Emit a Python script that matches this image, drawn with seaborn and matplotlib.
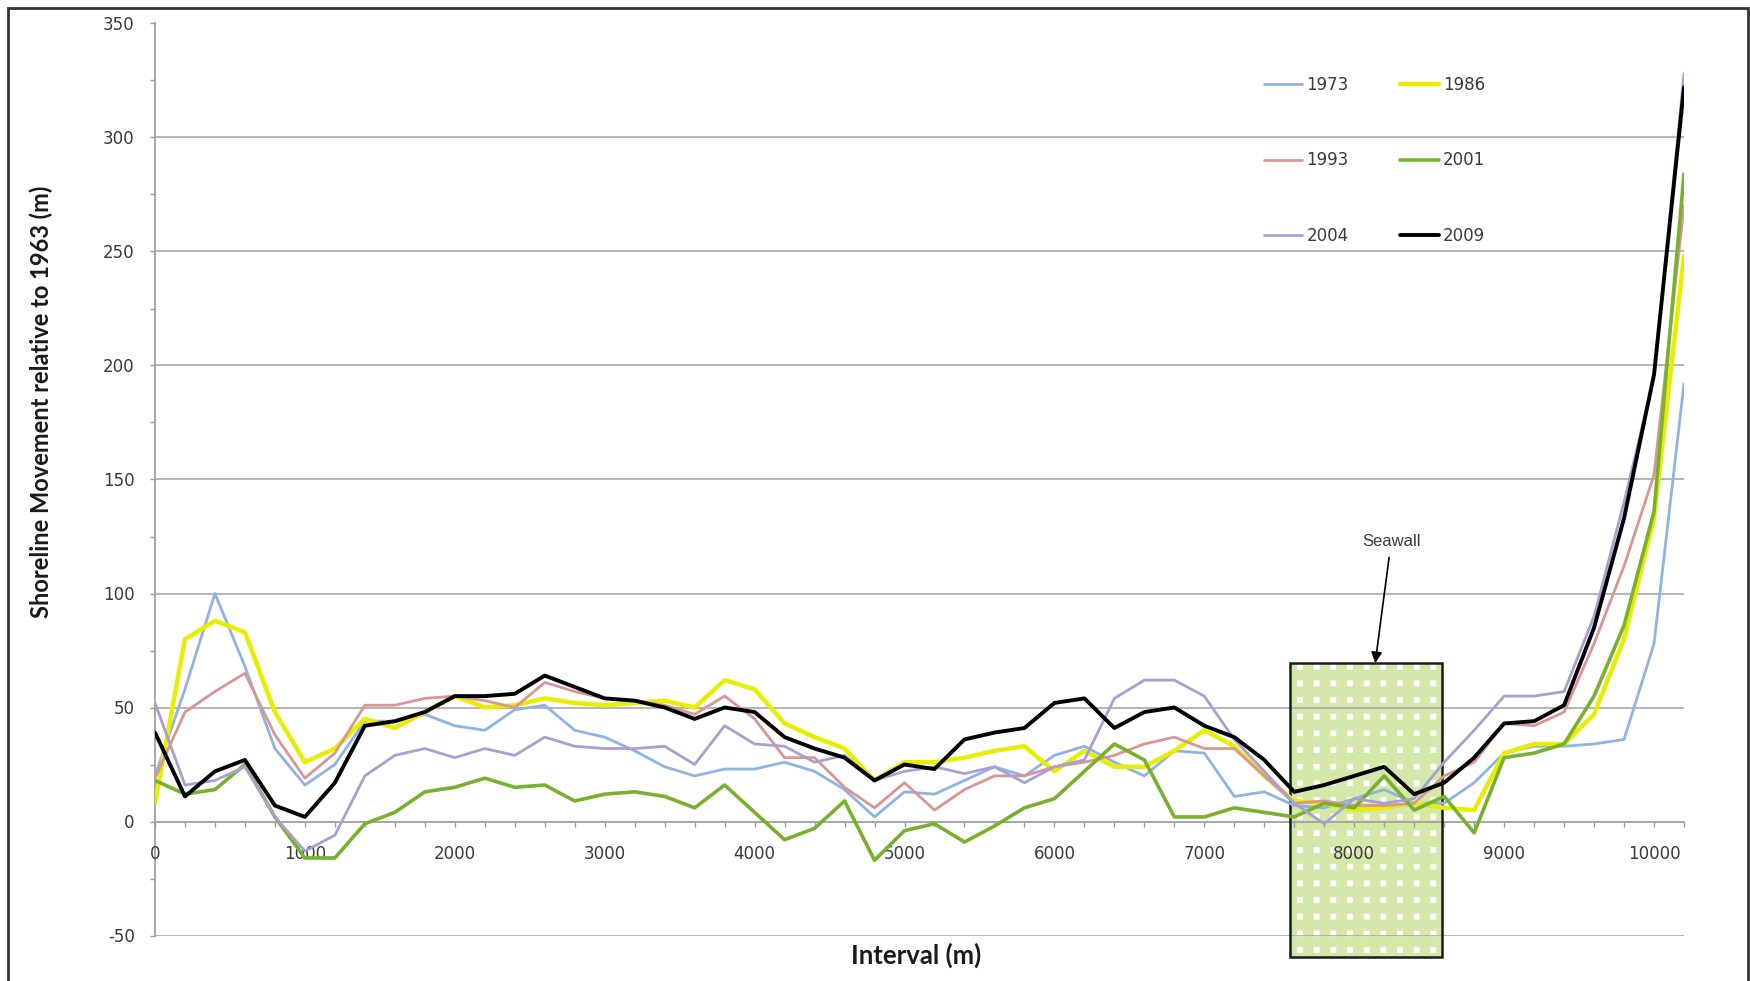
import numpy as np
import pandas as pd
import matplotlib
matplotlib.use("Agg")
import matplotlib.pyplot as plt
import seaborn as sns
from matplotlib.patches import Rectangle
from matplotlib.ticker import MultipleLocator, FixedLocator
from matplotlib.lines import Line2D

# ---------------- data ----------------
interval = list(range(0, 10201, 200))
xtick_values = list(range(0, 10001, 1000))

y1973 = [20, 58, 100, 68, 32, 16, 25, 44, 44, 47, 42, 40, 49, 51, 40,
         37, 31, 24, 20, 23, 23, 26, 22, 14, 2, 13, 12, 18, 24, 20,
         29, 33, 26, 20, 31, 30, 11, 13, 7, 6, 10, 14, 8, 8, 17,
         30, 33, 33, 34, 36, 78, 192]
y1986 = [8, 80, 88, 83, 48, 26, 32, 45, 41, 48, 55, 50, 51, 54, 52,
         51, 52, 53, 50, 62, 58, 43, 37, 32, 18, 26, 26, 28, 31, 33,
         22, 31, 24, 24, 31, 40, 33, 20, 9, 8, 5, 6, 8, 6, 5,
         30, 34, 34, 47, 80, 133, 248]
y1993 = [19, 48, 57, 65, 38, 19, 30, 51, 51, 54, 55, 53, 50, 61, 57,
         54, 53, 51, 47, 55, 45, 28, 28, 15, 6, 17, 5, 14, 20, 20,
         24, 26, 29, 34, 37, 32, 32, 20, 8, 9, 7, 7, 8, 20, 26,
         43, 42, 48, 78, 112, 152, 270]
y2001 = [18, 12, 14, 25, 2, -16, -16, -1, 4, 13, 15, 19, 15, 16, 9,
         12, 13, 11, 6, 16, 4, -8, -3, 9, -17, -4, -1, -9, -2, 6,
         10, 22, 34, 27, 2, 2, 6, 4, 2, 8, 6, 20, 5, 11, -5,
         28, 30, 34, 55, 86, 136, 284]
y2004 = [52, 16, 18, 24, 2, -13, -6, 20, 29, 32, 28, 32, 29, 37, 33,
         32, 32, 33, 25, 42, 34, 33, 26, 29, 18, 22, 24, 21, 24, 17,
         24, 27, 54, 62, 62, 55, 36, 22, 8, -1, 10, 8, 10, 26, 40,
         55, 55, 57, 90, 140, 195, 328]
y2009 = [39, 11, 22, 27, 7, 2, 17, 42, 44, 48, 55, 55, 56, 64, 59,
         54, 53, 50, 45, 50, 48, 37, 32, 28, 18, 25, 23, 36, 39, 41,
         52, 54, 41, 48, 50, 42, 37, 27, 13, 16, 20, 24, 12, 17, 28,
         43, 44, 51, 85, 133, 196, 322]

years = ["1973", "1986", "1993", "2001", "2004", "2009"]
series = [y1973, y1986, y1993, y2001, y2004, y2009]

colors = {"1973": "#8fb4e3", "1986": "#e8ee00", "1993": "#d99694",
          "2001": "#79b12f", "2004": "#a89fd2", "2009": "#000000"}
widths = {"1973": 2.0, "1986": 3.2, "1993": 2.0, "2001": 2.6,
          "2004": 2.0, "2009": 2.8}

seawall_x = [7570, 8587]
seawall_y = [-59.4, 69.5]

# ---------------- style ----------------
sns.set_theme(style="white")
plt.rcParams["font.family"] = ["DejaVu Sans"]
plt.rcParams["axes.unicode_minus"] = False
plt.rcParams["hatch.linewidth"] = 7.8

W, H = 1750, 981
fig = plt.figure(figsize=(W / 100, H / 100), dpi=100)
fig.patch.set_facecolor("white")
left, right, top, bottom = 155, 1684, 23.5, 935.5
ax = fig.add_axes([left / W, 1 - bottom / H, (right - left) / W, (bottom - top) / H])
ax.set_facecolor("white")

df = pd.DataFrame({"Interval": interval})
for yr, s in zip(years, series):
    df[yr] = s
long = df.melt(id_vars="Interval", var_name="Year", value_name="Movement")

for yr in years:
    sub = long[long["Year"] == yr]
    sns.lineplot(data=sub, x="Interval", y="Movement", color=colors[yr],
                 linewidth=widths[yr], ax=ax, zorder=3, legend=False)

ax.set_xlim(0, 10200)
ax.set_ylim(-50, 350)
ax.xaxis.set_major_locator(FixedLocator(xtick_values))
ax.xaxis.set_minor_locator(FixedLocator(interval))
ax.yaxis.set_major_locator(MultipleLocator(50))
ax.yaxis.set_minor_locator(MultipleLocator(25))
ax.grid(axis="y", which="major", color="#a8a8a8", linewidth=1.2)
ax.grid(axis="x", visible=False)
ax.set_axisbelow(False)

for sp in ["top", "right"]:
    ax.spines[sp].set_visible(False)
ax.spines["left"].set_color("#9a9a9a")
ax.spines["left"].set_linewidth(1.2)
ax.spines["bottom"].set_position(("data", 0))
ax.spines["bottom"].set_color("#9a9a9a")
ax.spines["bottom"].set_linewidth(1.2)

ax.tick_params(axis="both", which="both", direction="out", length=3.6,
               width=1, color="#9a9a9a", labelsize=12, labelcolor="#3a3a3a")
ax.tick_params(axis="x", which="both", bottom=True, pad=13)
ax.tick_params(axis="y", which="both", left=True, pad=11)
ax.set_xticklabels([str(v) for v in xtick_values])

ax.set_xlabel("Interval (m)", fontfamily="Lato", fontweight="bold",
              fontsize=18.5, color="#1a1a1a")
ax.xaxis.set_label_coords(0.498, -0.0075)
ax.set_ylabel("Shoreline Movement relative to 1963 (m)", fontfamily="Lato",
              fontweight="bold", fontsize=17, color="#1a1a1a")
ax.yaxis.set_label_coords(-0.0665, 0.585)

# seawall box
sx, sw = seawall_x[0], seawall_x[1] - seawall_x[0]
sy, sh = seawall_y[0], seawall_y[1] - seawall_y[0]
ax.add_patch(Rectangle((sx, sy), sw, sh, facecolor="white", edgecolor="none",
                       alpha=0.9, zorder=1.2, clip_on=False))
ax.add_patch(Rectangle((sx, sy), sw, sh, facecolor="none", edgecolor="#d2e7a6",
                       hatch="+", linewidth=0, alpha=0.95, zorder=1.3, clip_on=False))
ax.add_patch(Rectangle((sx, sy), sw, sh, fill=False, edgecolor="#1a1a1a",
                       linewidth=1.8, zorder=2.6, clip_on=False))
ax.annotate("Seawall", xy=(8140, seawall_y[1]), xytext=(8247, 123),
            ha="center", va="center", fontsize=12, color="#3a3a3a",
            fontfamily="Liberation Sans",
            arrowprops=dict(arrowstyle="-|>", color="black", lw=1.2,
                            mutation_scale=16, shrinkA=4, shrinkB=0))

# legend (row-wise ordering in 2 columns)
order = ["1973", "1993", "2004", "1986", "2001", "2009"]
handles = [Line2D([], [], color=colors[y], linewidth=widths[y]) for y in order]
leg = fig.legend(handles, order, loc="upper left", bbox_to_anchor=(0.7137, 0.9379),
                 ncol=2, frameon=False, fontsize=12, handlelength=2.3,
                 handletextpad=0.25, columnspacing=3.1, labelspacing=3.45,
                 borderpad=0.4)
for t in leg.get_texts():
    t.set_color("#3a3a3a")

# figure frame
fig.add_artist(Rectangle((8 / W, -0.02), (1748 - 8) / W, 1.02 - 8 / H,
                         transform=fig.transFigure, fill=False,
                         edgecolor="#333333", linewidth=2))

fig.savefig("out.png", dpi=100)
